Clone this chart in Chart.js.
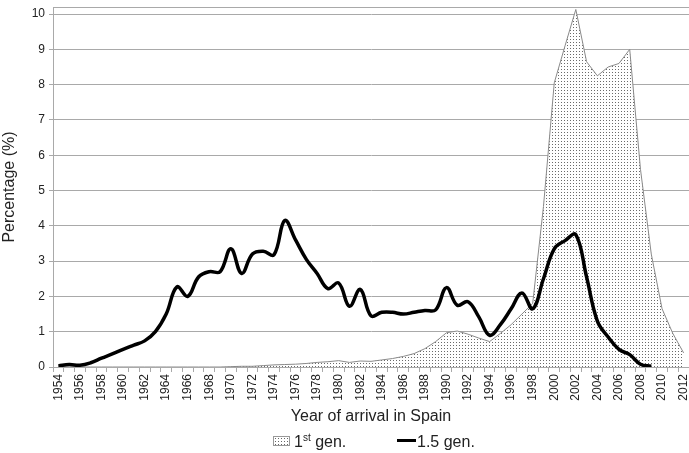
<!DOCTYPE html>
<html>
<head>
<meta charset="utf-8">
<script src="https://cdn.jsdelivr.net/npm/chart.js@4"></script>
<style>
	body { margin: 0; background: #fff; }
	#wrap { position: relative; width: 689px; height: 453px; }
	#legend {
		position: absolute; top: 431px; left: 0; width: 689px; height: 22px;
		font-family: 'Liberation Sans', Arial, sans-serif; font-size: 16px; color: #222;
	}
	.item { position: absolute; top: 1px; line-height: 20px; white-space: nowrap; }
	.item sup { font-size: 10px; vertical-align: 6px; line-height: 0; }
	.patch {
		display: inline-block; width: 15px; height: 8px; margin-right: 4px;
		border: 1px solid #999; vertical-align: 1px;
		background-color: #fff;
		background-image: radial-gradient(#666 0.7px, transparent 0.9px);
		background-size: 3px 3px;
	}
	.stroke { display: inline-block; width: 19px; height: 3px; background: #000; vertical-align: 5px; margin-right: 1px; }
</style>
</head>
<body>
<div id="wrap">
	<canvas id="myChart" width="689" height="453"></canvas>
	<div id="legend">
		<span class="item" style="left:273px"><span class="patch"></span>1<sup>st</sup> gen.</span>
		<span class="item" style="left:397px"><span class="stroke"></span>1.5 gen.</span>
	</div>
</div>
<script>
const years = [
	1954, 1955, 1956, 1957, 1958, 1959, 1960, 1961, 1962, 1963,
	1964, 1965, 1966, 1967, 1968, 1969, 1970, 1971, 1972, 1973,
	1974, 1975, 1976, 1977, 1978, 1979, 1980, 1981, 1982, 1983,
	1984, 1985, 1986, 1987, 1988, 1989, 1990, 1991, 1992, 1993,
	1994, 1995, 1996, 1997, 1998, 1999, 2000, 2001, 2002, 2003,
	2004, 2005, 2006, 2007, 2008, 2009, 2010, 2011, 2012,
]

// 1st gen. (area)
const firstGen = [
	0, 0, 0, 0, 0, 0, 0, 0, 0, 0,
	0, 0, 0, 0, 0, 0, 0.01, 0.02, 0.02, 0.04,
	0.06, 0.07, 0.08, 0.1, 0.13, 0.15, 0.18, 0.13, 0.17, 0.16,
	0.2, 0.24, 0.3, 0.38, 0.52, 0.72, 0.97, 1.02, 0.93, 0.82,
	0.72, 0.95, 1.2, 1.5, 1.8, 4.55, 8.05, 9.1, 10.13, 8.65,
	8.25, 8.5, 8.6, 9.0, 5.6, 3.2, 1.65, 0.95, 0.4,
]

// 1.5 gen. (line)
const gen15 = [
	0.03, 0.07, 0.05, 0.12, 0.25, 0.37, 0.5, 0.62, 0.74, 1.0,
	1.5, 2.27, 2.0, 2.55, 2.7, 2.7, 3.35, 2.65, 3.2, 3.28,
	3.18, 4.15, 3.6, 3.05, 2.65, 2.22, 2.38, 1.72, 2.2, 1.45,
	1.55, 1.55, 1.5, 1.55, 1.6, 1.62, 2.25, 1.75, 1.85, 1.42,
	0.9, 1.2, 1.65, 2.1, 1.65, 2.5, 3.35, 3.58, 3.75, 2.55,
	1.3, 0.85, 0.5, 0.35, 0.08, 0.02, null, null, null,
]

const yTicks = [0, 1, 2, 3, 4, 5, 6, 7, 8, 9, 10]

const FONT = "'Liberation Sans', Arial, sans-serif"
const GRID = '#a9a9a9'

const makeDots = () => {
	const tile = document.createElement('canvas')
	tile.width = 3
	tile.height = 3
	const c = tile.getContext('2d')
	c.fillStyle = '#ffffff'
	c.fillRect(0, 0, 3, 3)
	c.fillStyle = '#6a6a6a'
	c.fillRect(0, 0, 1, 1)
	return c.createPattern(tile, 'repeat')
}

const topBorder = {
	id: 'topBorder',
	beforeDatasetsDraw(chart) {
		const { ctx, chartArea } = chart
		ctx.save()
		ctx.strokeStyle = GRID
		ctx.lineWidth = 1
		ctx.beginPath()
		ctx.moveTo(chartArea.left, chartArea.top + 0.5)
		ctx.lineTo(chartArea.right, chartArea.top + 0.5)
		ctx.stroke()
		ctx.restore()
	},
}

const chart = document.getElementById('myChart')
new Chart(chart, {
	type: 'line',
	data: {
		labels: years,
		datasets: [
			{
				label: '1.5 gen.',
				data: gen15,
				borderColor: '#000',
				borderWidth: 3.5,
				tension: 0.4,
				pointRadius: 0,
				fill: false,
				spanGaps: false,
				order: 0,
			},
			{
				label: '1st gen.',
				data: firstGen,
				borderColor: '#8a8a8a',
				borderWidth: 1,
				backgroundColor: makeDots(),
				tension: 0,
				pointRadius: 0,
				fill: 'origin',
				order: 1,
			},
		],
	},
	options: {
		responsive: false,
		animation: false,
		layout: { padding: { left: 0, right: 0, top: 7, bottom: 22 } },
		scales: {
			x: {
				type: 'category',
				offset: true,
				grid: { display: true, drawOnChartArea: false, offset: true, color: GRID, tickLength: 5 },
				border: { color: GRID },
				ticks: {
					autoSkip: false,
					minRotation: 90,
					maxRotation: 90,
					padding: 2,
					color: '#222',
					font: { family: FONT, size: 12 },
					callback: (val, i) => (years[i] % 2 === 0 ? years[i] : ''),
				},
				title: {
					display: true,
					text: 'Year of arrival in Spain',
					color: '#222',
					font: { family: FONT, size: 16 },
					padding: { top: 4, bottom: 5 },
				},
				afterFit: (scale) => {
					scale.height = 64
					scale.paddingLeft = 0
					scale.paddingRight = 0
				},
			},
			y: {
				min: 0,
				max: 10.2,
				grid: { color: GRID, tickLength: 4 },
				border: { color: GRID },
				afterBuildTicks: (scale) => { scale.ticks = yTicks.map((v) => ({ value: v })) },
				ticks: {
					padding: 4,
					color: '#222',
					font: { family: FONT, size: 12 },
				},
				title: {
					display: true,
					text: 'Percentage (%)',
					color: '#222',
					font: { family: FONT, size: 16 },
					padding: { top: 0, bottom: 4 },
				},
				afterFit: (scale) => {
					scale.width = 53
					scale.paddingTop = 0
					scale.paddingBottom = 0
				},
			},
		},
		plugins: {
			legend: { display: false },
			tooltip: { enabled: false },
		},
	},
	plugins: [topBorder],
})
</script>
</body>
</html>
